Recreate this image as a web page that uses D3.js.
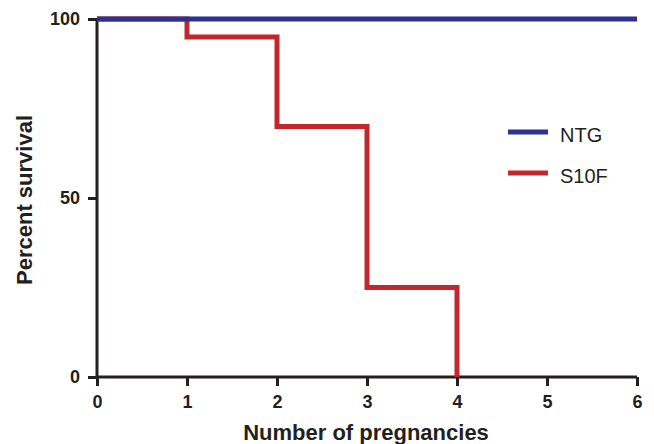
<!DOCTYPE html>
<html><head><meta charset="utf-8">
<script src="https://cdn.jsdelivr.net/npm/d3@7"></script>
<style>body{margin:0;background:#fff}svg{display:block}text{font-family:"Liberation Sans",Arial,sans-serif}</style>
</head><body><svg id="c" width="654" height="444"></svg>
<script>
const xTicks = [0,1,2,3,4,5,6];
const yTicks = [0,50,100];
const ntgX = [0,6];
const ntgY = [100,100];
const s10fX = [0,1,2,3,4];
const s10fY = [100,95,70,25,0];
const seriesNames = ["NTG","S10F"];
const colors = ["#2e3192","#c1272d"];

const svg = d3.select("#c");
const x = d3.scaleLinear().domain([0,6]).range([97,637]);
const y = d3.scaleLinear().domain([0,100]).range([377,19]);

const xa = svg.append("g").attr("transform","translate(0,377)")
  .call(d3.axisBottom(x).tickValues(xTicks).tickSize(9).tickPadding(9).tickFormat(d3.format("d")));
const ya = svg.append("g").attr("transform","translate(97,0)")
  .call(d3.axisLeft(y).tickValues(yTicks).tickSize(9).tickPadding(8).tickFormat(d3.format("d")));
[xa,ya].forEach(a=>{
  a.attr("font-size",18).attr("font-family","'Liberation Sans',Arial,sans-serif").attr("font-weight","bold");
  a.select(".domain").attr("stroke","#231f20").attr("stroke-width",3);
  a.selectAll(".tick line").attr("stroke","#231f20").attr("stroke-width",3);
  a.selectAll(".tick text").attr("fill","#231f20");
});
ya.select(".domain").attr("d","M0,19V377");
xa.select(".domain").attr("d","M97,0H637");

const line = d3.line().curve(d3.curveStepAfter);
const ntg = ntgX.map((v,i)=>[x(v),y(ntgY[i])]);
const s10 = s10fX.map((v,i)=>[x(v),y(s10fY[i])]);
svg.append("path").attr("d",line(s10)).attr("fill","none").attr("stroke",colors[1]).attr("stroke-width",5);
svg.append("path").attr("d",line(ntg)).attr("fill","none").attr("stroke",colors[0]).attr("stroke-width",5);

svg.append("text").attr("x",366).attr("y",440).attr("text-anchor","middle")
  .attr("font-size",22).attr("font-weight","bold").attr("fill","#231f20").text("Number of pregnancies");
svg.append("text").attr("transform","translate(32,200) rotate(-90)").attr("text-anchor","middle")
  .attr("font-size",22).attr("font-weight","bold").attr("fill","#231f20").text("Percent survival");

seriesNames.forEach((n,i)=>{
  const ly = 132 + i*41;
  svg.append("line").attr("x1",508).attr("x2",548).attr("y1",ly).attr("y2",ly)
    .attr("stroke",colors[i]).attr("stroke-width",5);
  svg.append("text").attr("x",560).attr("y",ly+10).attr("font-size",20).attr("fill","#231f20").text(n);
});
</script></body></html>
